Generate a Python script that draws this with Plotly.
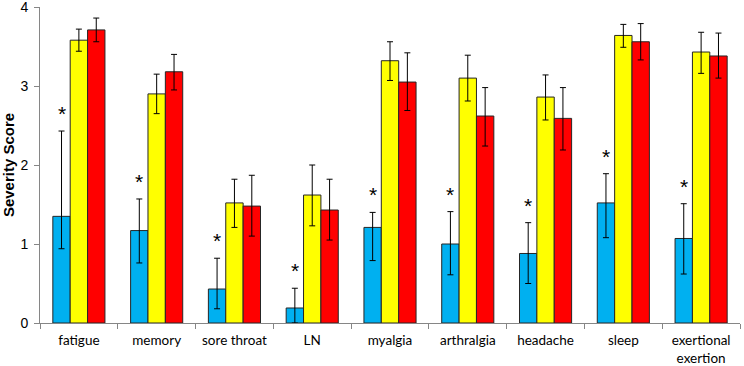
import plotly.graph_objects as go

categories = ["fatigue", "memory", "sore throat", "LN", "myalgia", "arthralgia",
              "headache", "sleep", "exertional<br>exertion"]

blue_vals = [1.35, 1.17, 0.43, 0.19, 1.21, 1.00, 0.88, 1.52, 1.07]
blue_hi   = [2.43, 1.57, 0.82, 0.44, 1.40, 1.41, 1.27, 1.89, 1.51]
blue_lo   = [0.94, 0.76, 0.18, 0.00, 0.79, 0.61, 0.50, 1.08, 0.62]

yellow_vals = [3.58, 2.90, 1.52, 1.62, 3.32, 3.10, 2.86, 3.64, 3.43]
yellow_hi   = [3.72, 3.15, 1.82, 2.00, 3.56, 3.39, 3.14, 3.78, 3.68]
yellow_lo   = [3.44, 2.65, 1.21, 1.23, 3.07, 2.81, 2.57, 3.49, 3.16]

red_vals = [3.71, 3.18, 1.48, 1.43, 3.05, 2.62, 2.59, 3.56, 3.38]
red_hi   = [3.86, 3.40, 1.87, 1.82, 3.42, 2.98, 2.98, 3.79, 3.67]
red_lo   = [3.56, 2.95, 1.10, 1.05, 2.69, 2.24, 2.19, 3.33, 3.10]

star_marks = ["*"] * 9

series = [
    (blue_vals, blue_hi, blue_lo, "#00B0F0"),
    (yellow_vals, yellow_hi, yellow_lo, "#FFFF00"),
    (red_vals, red_hi, red_lo, "#FF0000"),
]

fig = go.Figure()
for vals, hi, lo, col in series:
    fig.add_trace(go.Bar(
        x=categories, y=vals,
        marker=dict(color=col, line=dict(color="#262626", width=1)),
        error_y=dict(type="data", symmetric=False,
                     array=[h - v for h, v in zip(hi, vals)],
                     arrayminus=[v - l for v, l in zip(vals, lo)],
                     color="#000000", thickness=1, width=3),
        showlegend=False,
    ))

# asterisks above blue error bars (blue bar is offset left within group)
for i, (cat, s) in enumerate(zip(categories, star_marks)):
    fig.add_annotation(x=i, y=blue_hi[i], xref="x", yref="y", text=s,
                       showarrow=False, xshift=-17.3, yanchor="bottom", yshift=4,
                       font=dict(family="Liberation Sans, Arial", size=21, color="#000"))

fig.update_layout(
    width=744, height=366,
    margin=dict(l=40, r=4, t=7, b=43),
    paper_bgcolor="white", plot_bgcolor="white",
    barmode="group", bargap=0.33, bargroupgap=0,
)
fig.update_xaxes(
    type="category", tickson="boundaries", ticks="outside", ticklen=5,
    tickcolor="#868686", showline=True, linecolor="#868686", linewidth=1,
    showgrid=False, range=[-0.5, 8.5], automargin=False, ticklabelstandoff=5,
    tickfont=dict(family="Lato, Open Sans", size=13.5, color="#000"),
)
fig.update_yaxes(
    range=[0, 4], tickvals=[0, 1, 2, 3, 4], ticks="outside", ticklen=5,
    tickcolor="#868686", showline=True, linecolor="#868686", linewidth=1,
    showgrid=False, zeroline=False, automargin=False, ticklabeloverflow="allow",
    ticklabelstandoff=3,
    tickfont=dict(family="Liberation Sans, Arial", size=14, color="#000"),
    title=dict(text="<b>Severity Score</b>", standoff=2,
               font=dict(family="Liberation Sans, Arial", size=15, color="#000")),
)

fig.write_html("out.html", config={"displayModeBar": False},
               post_script="document.body.style.margin='0px';")
